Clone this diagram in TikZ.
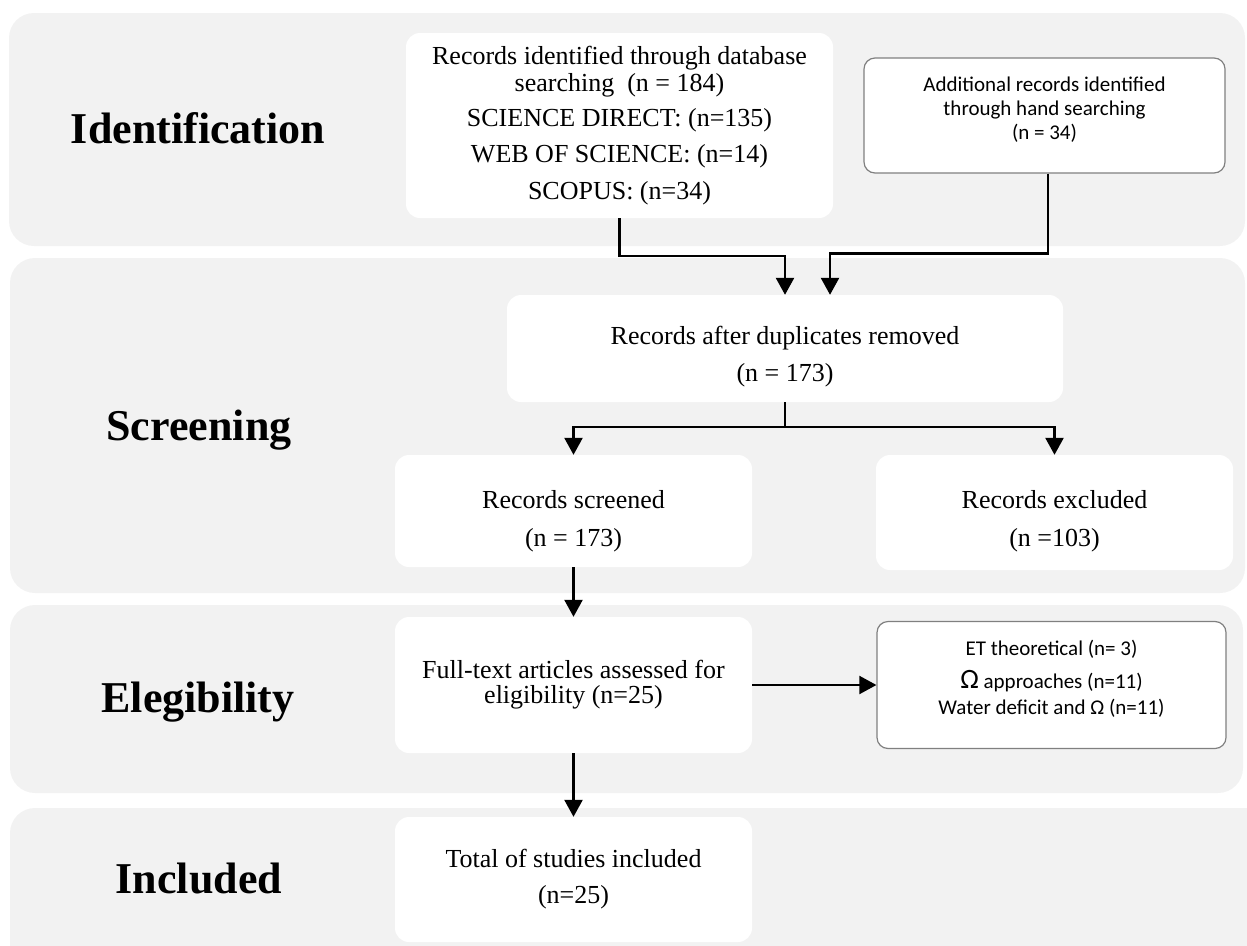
\documentclass[tikz,border=0pt]{standalone}
\usepackage{fontspec}
\setmainfont{Liberation Serif}
\newfontfamily\calibri{Carlito}
\usetikzlibrary{positioning}
\usetikzlibrary{arrows.meta}
\definecolor{bandgray}{HTML}{F2F2F2}
\definecolor{rimgray}{HTML}{808080}

\begin{document}
\begin{tikzpicture}
    [x=1pt, y=-1pt,
     band/.style={fill=bandgray, rounded corners=25pt},
     phase/.style={anchor=base, font=\fontsize{44}{50}\selectfont\bfseries},
     panel/.style={fill=white, rounded corners=14pt, inner sep=0pt},
     framed/.style={draw=rimgray, line width=1.2pt, fill=white, rounded corners=11pt, inner sep=0pt},
     serif/.style={align=center, font=\fontsize{26}{27}\selectfont},
     sans/.style={align=center, font=\fontsize{21}{24}\calibri},
     arr/.style={line width=2.5pt, -{Triangle[length=17pt, width=18pt]}}]
    \useasboundingbox (0,0) rectangle (1247,945);
    \clip (0,0) rectangle (1247,945);

    % phase bands
    \fill[band] (9,13) rectangle (1245,246);
    \fill[band] (10,258) rectangle (1245,593);
    \fill[band] (10,605) rectangle (1243,793);
    \fill[band] (10,808) rectangle (1270,980);

    \node[phase] (ident) at (198,143) {Identification};
    \node[phase] (screen) at (199,440) {Screening};
    \node[phase] (elig) at (198,712) {Elegibility};
    \node[phase] (incl) at (199,893) {Included};

    % boxes
    \node[panel, serif, minimum width=427pt, minimum height=185pt] (db) at (619.5,125.5)
        {Records identified through database\\ searching~ (n = 184)\\[8pt] SCIENCE DIRECT: (n=135)\\[9pt] WEB OF SCIENCE: (n=14)\\[10pt] SCOPUS: (n=34)};
    \node[framed, minimum width=361pt, minimum height=115pt,
        label={[sans, yshift=6pt]center:{Additional records identified\\ through hand searching\\ (n = 34)}}] (hand) at (1044.5,115.5) {};
    \node[panel, minimum width=556pt, minimum height=107pt,
        label={[serif, yshift=-8pt]center:{Records after duplicates removed\\[10pt] (n = 173)}}] (dup) at (785,348.5) {};
    \node[panel, minimum width=357pt, minimum height=112pt,
        label={[serif, yshift=-10pt]center:{Records screened\\[11pt] (n = 173)}}] (screened) at (573.5,511) {};
    \node[panel, minimum width=357pt, minimum height=115pt,
        label={[serif, yshift=-9pt]center:{Records excluded\\[11pt] (n =103)}}] (excluded) at (1054.5,512.5) {};
    \node[panel, serif, minimum width=357pt, minimum height=136pt] (fulltext) at (573.5,685)
        {Full-text articles assessed for\\[-2pt] eligibility (n=25)};
    \node[framed, minimum width=349pt, minimum height=127pt,
        label={[sans, yshift=6pt]center:{ET theoretical (n= 3)\\[9pt] {\fontsize{28}{28}\selectfont Ω} approaches (n=11)\\[2pt] Water deficit and Ω (n=11)}}] (et) at (1051.5,685) {};
    \node[panel, serif, minimum width=357pt, minimum height=125pt] (total) at (573.5,879.5)
        {Total of studies included\\[9pt] (n=25)};

    % connectors
    \draw[arr] (db.south) -- ++(0,38) -| (dup.north);
    \draw[arr] ([xshift=3.5pt]hand.south) -- ++(0,80) -| ([xshift=45pt]dup.north);
    \draw[arr] (dup.south) -- ++(0,25) -| (screened.north);
    \draw[arr] (dup.south) -- ++(0,25) -| (excluded.north);
    \draw[arr] (screened) -- (fulltext);
    \draw[arr, line width=2pt] (fulltext) -- (et);
    \draw[arr] (fulltext) -- (total);

\end{tikzpicture}
\end{document}
